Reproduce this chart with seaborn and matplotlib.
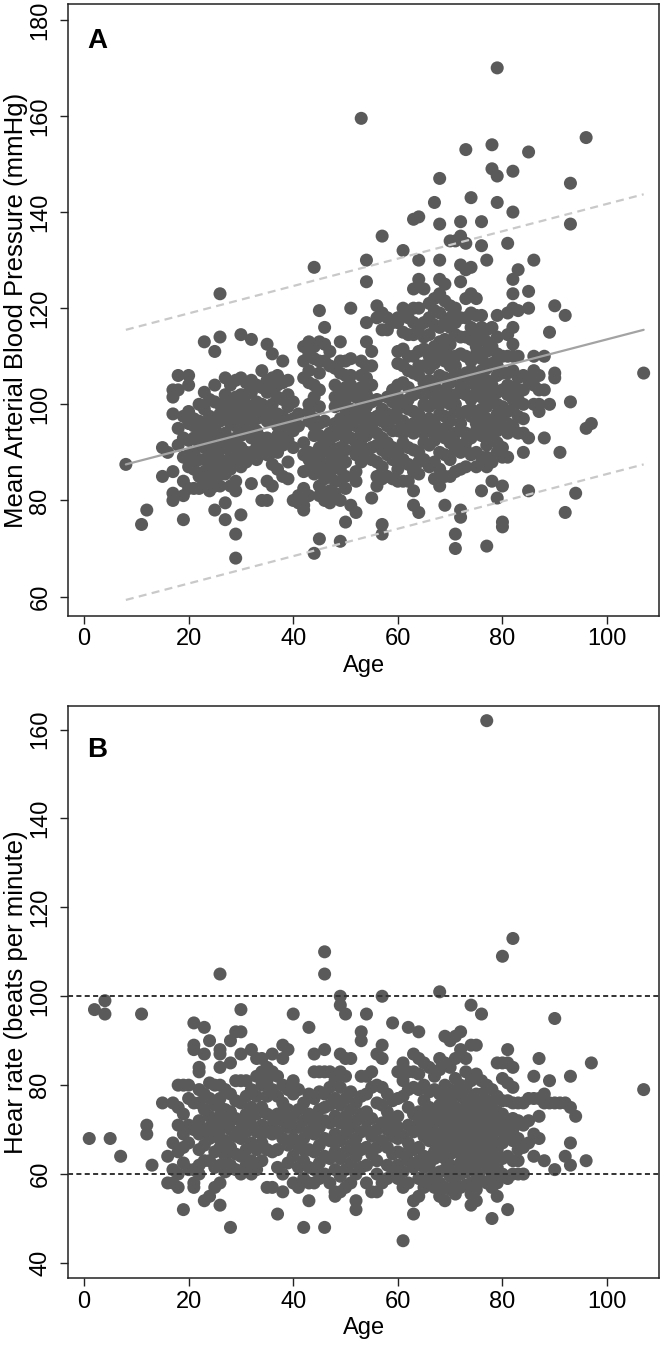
import matplotlib
matplotlib.use("Agg")
import matplotlib.pyplot as plt
import seaborn as sns
import pandas as pd

# ---------------- Panel A data: Age vs Mean Arterial Blood Pressure ----------------
ages_A = [8, 11, 12, 15, 16, 17, 18, 19, 20, 21,
          22, 23, 24, 25, 26, 27, 28, 29, 30, 31,
          32, 33, 34, 35, 36, 37, 38, 39, 40, 41,
          42, 43, 44, 45, 46, 47, 48, 49, 50, 51,
          52, 53, 54, 55, 56, 57, 58, 59, 60, 61,
          62, 63, 64, 65, 66, 67, 68, 69, 70, 71,
          72, 73, 74, 75, 76, 77, 78, 79, 80, 81,
          82, 83, 84, 85, 86, 87, 88, 89, 90, 91,
          92, 93, 94, 96, 97, 107]
map_A = [
    [87.5], [75], [78], [85, 91], [90],
    [103, 101.5, 98, 86, 81.5, 80],
    [95, 103, 106, 91.5],
    [76, 81, 89, 93, 97.5, 84],
    [106, 104, 96, 89.5, 82.5, 92.5, 98.5, 87],
    [95.5, 93, 90, 82.5, 97, 86.5, 88],
    [100, 96.5, 92, 88.5, 85, 82.5, 94],
    [113, 102.5, 99, 95.5, 91, 88.5, 86, 84, 93],
    [101, 97.5, 93, 90.5, 87, 84.5, 82, 95, 88.5],
    [111, 104, 100.5, 97, 95, 92.5, 89, 86.5, 83, 78, 90.5, 84.5],
    [123, 114, 100, 96.5, 93, 90.5, 87, 85.5, 83, 98, 88.5],
    [105.5, 97.5, 94, 91.5, 88, 85.5, 79.5, 76, 102, 99.5, 92.5],
    [104, 100.5, 96, 92.5, 89, 86.5, 83, 98, 90.5],
    [105, 101.5, 98, 95.5, 91, 87.5, 84, 82, 73, 68, 99.5, 93],
    [114.5, 105.5, 102, 99.5, 96, 93.5, 89, 87, 77, 97.5, 91],
    [104.5, 100, 97.5, 94, 90, 88, 102, 95.5],
    [113.5, 105, 102.5, 99, 96.5, 90, 83.5, 93],
    [104, 100.5, 97, 94.5, 91, 88.5, 98.5, 92.5],
    [107, 103.5, 100, 97.5, 93, 90.5, 80],
    [112.5, 105, 102.5, 99, 96.5, 93, 89.5, 84, 80, 97.5, 91],
    [110.5, 105.5, 103, 100, 96.5, 92, 87.5, 83, 98, 90],
    [106, 104, 101.5, 98, 95.5, 90, 86.5, 93.5],
    [109, 104.5, 101, 97.5, 94, 91.5, 85],
    [105, 102, 99.5, 96, 92.5, 88, 84.5],
    [100.5, 97, 94.5, 91, 80],
    [98, 95.5, 81, 79.5],
    [112, 109, 105.5, 92, 89.5, 86, 82.5, 79, 78],
    [113, 110.5, 107, 104.5, 100, 96.5, 90, 86.5, 81, 98.5, 88.5],
    [128.5, 112, 109.5, 104, 101.5, 97, 93.5, 89, 85.5, 69, 95.5, 87.5],
    [119.5, 113, 109, 106.5, 103, 99.5, 96, 93.5, 89, 86.5, 83, 81, 72, 91],
    [116, 112.5, 109, 96.5, 93, 90.5, 87, 84.5, 80, 91.5, 85.5],
    [111, 108, 94, 91.5, 88, 85.5, 82, 79.5, 90],
    [107.5, 104, 99.5, 96, 93.5, 90, 87.5, 84, 81.5, 101.5, 95, 89],
    [113, 106.5, 103, 100.5, 97, 94.5, 91, 88.5, 84, 80, 71.5, 109, 95.5, 86.5],
    [109, 106, 103.5, 99, 96.5, 93, 90.5, 85, 82.5, 75.5, 101, 94.5, 88],
    [120, 109.5, 106, 102.5, 99, 96.5, 93, 79, 104, 97.5],
    [101.5, 98, 95.5, 92, 89.5, 86, 84, 77.5, 103, 96.5, 90.5],
    [159.5, 106, 103.5, 100, 97.5, 94, 91.5, 88, 109, 98.5, 95],
    [130, 125.5, 117, 113, 105.5, 102, 99.5, 96, 93.5, 90, 108, 97.5],
    [111, 104, 100.5, 97, 94.5, 91, 88.5, 80.5, 108, 95.5],
    [120.5, 118, 101, 97.5, 94, 91.5, 85, 83, 88],
    [135, 119, 115.5, 99, 96.5, 93, 90.5, 87, 84.5, 75, 73],
    [118, 115.5, 101.5, 98, 95.5, 92, 89.5, 85],
    [117, 103, 100.5, 97, 94.5, 91, 88.5, 84.5],
    [118, 117, 108.5, 104, 101.5, 97, 94.5, 90, 86.5, 84, 111, 99],
    [132, 120, 111.5, 108, 104.5, 100, 96.5, 92, 88.5, 84, 115, 94],
    [118, 114.5, 107, 103.5, 99, 95.5, 91, 87.5, 84, 110, 101],
    [138.5, 124, 117, 114.5, 110, 106.5, 102, 98.5, 94, 90.5, 86, 82, 79, 120, 96],
    [139, 130, 126, 124.5, 116, 106, 102.5, 98, 94.5, 90, 85.5, 77.5, 111, 120, 108, 88],
    [124, 114, 111.5, 108, 104.5, 100, 96.5, 92, 88.5, 117, 102, 94],
    [118, 114.5, 110, 107.5, 103, 99.5, 95, 91.5, 87, 121, 105, 97],
    [142, 122, 119.5, 116.5, 112, 108.5, 104, 100.5, 96, 92.5, 88, 84.5, 102, 94],
    [147, 137.5, 130, 126, 123, 119, 113, 110.5, 106, 102.5, 98, 94.5, 90, 86.5, 83,
     116, 100],
    [125, 121.5, 117, 113.5, 109, 105.5, 101, 97.5, 93, 89.5, 85, 79, 111, 103, 95],
    [134, 120.5, 116, 112.5, 108, 104.5, 100, 96.5, 92, 88.5, 85, 118, 110, 102, 94],
    [134, 120, 114.5, 110, 106.5, 102, 98.5, 94, 90.5, 86, 73, 70, 117, 108, 100, 92],
    [138, 135, 129, 125.5, 110.5, 106, 102.5, 98, 94.5, 90, 86.5, 78, 76.5,
     118, 114, 104, 96],
    [153, 133.5, 128, 110, 106.5, 102, 98.5, 94, 90.5, 87, 114, 118, 122, 104, 92],
    [143, 128.5, 123, 119, 113.5, 109, 105.5, 101, 97.5, 93, 89.5, 116, 107, 99],
    [122, 118.5, 114, 110.5, 106, 102.5, 98, 94.5, 90, 87, 112, 104, 96],
    [138, 133, 118.5, 114, 109.5, 105, 101.5, 97, 93.5, 89, 82, 116, 107, 99],
    [130, 115.5, 111, 107.5, 103, 99.5, 95, 91.5, 87, 70.5, 113, 105, 97, 89],
    [154, 149, 116, 108.5, 104, 100.5, 96, 92.5, 88, 84, 112, 102, 94],
    [170, 147.5, 142, 118.5, 114, 110.5, 106, 102.5, 98, 94.5, 90, 80.5, 108, 100, 92],
    [110, 106.5, 103, 99.5, 95, 89, 83, 75.5, 74.5, 97, 91],
    [133.5, 119, 114.5, 110, 106.5, 102, 98.5, 94, 89, 104, 96],
    [148.5, 140, 126, 123, 120, 116, 112.5, 107, 103.5, 99, 95.5, 110, 101],
    [128, 119.5, 110, 105.5, 101, 97.5, 94, 103],
    [106, 103, 100, 94, 90, 97],
    [152.5, 123.5, 120, 105, 93, 82],
    [130, 110, 107, 104, 100],
    [106, 103, 100, 98.5],
    [110, 103, 93], [115, 100], [120.5, 106.5, 105.5],
    [90], [118.5, 77.5], [146, 137.5, 100.5], [81.5], [155.5, 95], [96], [106.5],
]
# fitted line and prediction band (endpoints at Age 8 and 107)
fit_age = [8, 107]
fit_mid = [87.5, 115.5]
fit_upper = [115.5, 143.7]
fit_lower = [59.3, 87.5]

# ---------------- Panel B data: Age vs Heart rate ----------------
ages_B = [1, 2, 4, 5, 7, 11, 12, 13, 15, 16,
          17, 18, 19, 20, 21, 22, 23, 24, 25, 26,
          27, 28, 29, 30, 31, 32, 33, 34, 35, 36,
          37, 38, 39, 40, 41, 42, 43, 44, 45, 46,
          47, 48, 49, 50, 51, 52, 53, 54, 55, 56,
          57, 58, 59, 60, 61, 62, 63, 64, 65, 66,
          67, 68, 69, 70, 71, 72, 73, 74, 75, 76,
          77, 78, 79, 80, 81, 82, 83, 84, 85, 86,
          87, 88, 89, 90, 91, 92, 93, 94, 96, 97,
          107]
hr_B = [
    [68], [97], [99, 96], [68], [64], [96], [71, 69], [62], [76], [64, 58],
    [76, 67, 61, 58],
    [80, 75, 71, 65, 60, 57],
    [80, 73.5, 69, 66, 52, 62.5],
    [80, 77, 67, 61, 71],
    [94, 89, 88, 76, 61, 58, 57, 70],
    [84, 83, 76, 72, 69, 62, 60, 65.5, 79],
    [93, 87, 78, 74.5, 70, 66.5, 63, 54],
    [90, 77, 73, 68, 63, 55, 80.5, 70.5],
    [80, 75.5, 72, 68.5, 65, 61.5, 57],
    [105, 88, 87, 84, 80, 77, 73, 70, 66, 62, 58, 53, 75, 68],
    [79, 74.5, 71.5, 67.5, 64, 60.5],
    [90, 85, 78, 74, 70, 66, 62, 48, 72],
    [92, 81, 76.5, 72.5, 68.5, 64.5, 61],
    [97, 92, 87, 81, 76, 72, 68, 64, 60, 70],
    [81, 77.5, 73.5, 69.5, 65.5, 62],
    [88, 79, 75, 71, 67, 63, 60, 73],
    [86, 82, 77.5, 73.5, 69.5, 65.5, 61],
    [86, 83, 80, 75, 71, 67, 63, 69],
    [84, 81, 77.5, 73.5, 69.5, 65.5, 57],
    [87, 83, 79, 73, 69, 65, 57, 71],
    [82, 77.5, 73.5, 69.5, 65.5, 61.5, 51],
    [89, 86, 80, 76, 72, 68, 60, 56, 74],
    [88, 79, 74.5, 70.5, 66.5, 62.5],
    [96, 81, 78, 73, 68, 64, 58, 70.5],
    [79, 74.5, 70.5, 66, 61.5, 57],
    [76, 72, 68, 63, 59, 48, 65.5],
    [93, 78, 73.5, 69.5, 65.5, 61.5, 58, 54],
    [87, 83, 77, 73, 69, 65, 61, 58, 71],
    [83, 78.5, 74.5, 70.5, 66.5, 62.5, 59],
    [110, 105, 88, 83, 78, 72, 68, 64, 60, 48, 75],
    [83, 79.5, 75.5, 71.5, 67.5, 63.5, 58],
    [81, 77, 73, 69, 65, 61, 56, 55, 67],
    [100, 98, 87, 83, 79.5, 75.5, 71.5, 67.5, 63.5, 59.5, 56],
    [96, 86, 82, 77, 73, 69, 65, 61, 57, 71],
    [86, 78.5, 74.5, 70.5, 66.5, 62.5, 58],
    [76, 72, 68, 64, 60, 54, 52, 66],
    [92, 90, 82, 77.5, 73.5, 69.5, 65.5, 61.5],
    [96, 82, 78, 74, 70, 66, 62, 58, 72],
    [83, 79.5, 72.5, 68.5, 64.5, 56],
    [87, 80, 76, 70, 66, 60, 56, 63],
    [100, 89, 86, 79.5, 75.5, 71.5, 67.5, 58],
    [78, 74, 70, 66, 62, 59, 72],
    [94, 76.5, 72.5, 68.5, 64.5, 61],
    [83, 77, 73, 68, 65, 62, 59, 70.5],
    [85, 81, 77.5, 68.5, 64.5, 60.5, 57, 45],
    [93, 83, 79, 75, 71, 67, 63, 58, 65],
    [87, 83, 79.5, 73.5, 69.5, 65.5, 61.5, 54, 51],
    [92, 86, 82.5, 79, 74, 71.5, 66, 63, 59, 55],
    [85, 80, 76.5, 73, 68.5, 64, 61.5, 57, 70.5],
    [84, 78.5, 75, 70, 67.5, 62, 59, 73],
    [82, 79, 74, 71.5, 69, 65, 63.5, 60, 57, 67.5],
    [101, 86, 83.5, 78, 75.5, 73, 69, 67.5, 64, 60.5, 58, 55],
    [91, 85, 80, 77.5, 74, 70.5, 66, 63.5, 61, 57, 54, 72, 68],
    [90, 84, 79, 76, 73.5, 71, 67, 64.5, 62, 59.5, 56.5, 69.5],
    [91, 86, 81.5, 78, 75, 71.5, 68.5, 65, 61.5, 58, 55.5, 73, 66.5],
    [92, 88, 80, 77.5, 74, 72.5, 69.5, 66.5, 62.5, 60, 57, 71, 64.5],
    [86, 83, 79.5, 76.5, 72.5, 70, 66.5, 63, 60.5, 57.5, 74.5, 68.5],
    [98, 89, 81, 77.5, 75, 71, 67.5, 65.5, 61.5, 58, 55.5, 53, 73, 63.5],
    [89, 82.5, 78, 74.5, 72, 68.5, 66, 62.5, 60, 56.5, 54, 76.5, 70],
    [96, 81, 78, 74, 70.5, 68, 64.5, 61, 58.5, 76, 66.5],
    [162, 80, 76.5, 72.5, 69.5, 67, 63.5, 61.5, 58, 74.5, 65.5],
    [79, 75.5, 71.5, 68.5, 66, 62.5, 59.5, 57, 50, 73.5, 64],
    [85, 77.5, 74, 70.5, 67, 65.5, 61.5, 58, 55, 72.5],
    [109, 85, 81.5, 76.5, 73.5, 69.5, 67, 63.5, 60, 71.5],
    [88, 85, 80.5, 76.5, 72, 68.5, 64, 59, 52, 70],
    [113, 84, 79.5, 76, 72.5, 67.5, 63, 60, 70],
    [76, 72, 68, 63, 60, 65.5], [76, 71, 66, 60], [77, 72, 67], [82, 77, 69, 64],
    [86, 77, 73, 68], [78, 76, 63], [81, 76], [95, 76, 61], [76], [76, 64],
    [82, 75, 67, 62], [73], [63], [85], [79],
]
ref_lines_B = [60, 100]


def flatten(ages, vals, name):
    xs, ys = [], []
    for a, vs in zip(ages, vals):
        for v in vs:
            xs.append(a)
            ys.append(v)
    return pd.DataFrame({"Age": xs, name: ys})


df_A = flatten(ages_A, map_A, "MAP")
df_B = flatten(ages_B, hr_B, "HR")

sns.set_theme(style="white")
plt.rcParams["font.family"] = ["Liberation Sans", "DejaVu Sans"]
plt.rcParams["axes.edgecolor"] = "#222222"
plt.rcParams["axes.linewidth"] = 1.1
plt.rcParams["text.color"] = "black"
plt.rcParams["axes.labelcolor"] = "black"
plt.rcParams["xtick.color"] = "black"
plt.rcParams["ytick.color"] = "black"

fig = plt.figure(figsize=(6.61, 13.64), dpi=100)
axA = fig.add_axes([0.1029, 0.5484, 0.8946, 0.4487])
axB = fig.add_axes([0.1029, 0.0630, 0.8946, 0.4194])

pt_color = "#5a5a5a"
msize = 88
tick_fs = 17
lab_fs = 18.5

# Panel A
sns.scatterplot(data=df_A, x="Age", y="MAP", ax=axA, s=msize, color=pt_color,
                edgecolor="none", linewidth=0, zorder=3)
axA.plot(fit_age, fit_mid, color="#a3a3a3", lw=1.6, zorder=4)
axA.plot(fit_age, fit_upper, color="#c9c9c9", lw=1.6, dashes=(3.6, 2.4), zorder=4)
axA.plot(fit_age, fit_lower, color="#c9c9c9", lw=1.6, dashes=(3.6, 2.4), zorder=4)
axA.set_xlim(-3.06, 110.0)
axA.set_ylim(55.96, 183.3)
axA.set_yticks([60, 80, 100, 120, 140, 160, 180])
axA.set_ylabel("Mean Arterial Blood Pressure (mmHg)", fontsize=lab_fs)
axA.text(0.6, 174.2, "A", fontsize=20, fontweight="bold", ha="left", va="baseline",
         color="black")

# Panel B
sns.scatterplot(data=df_B, x="Age", y="HR", ax=axB, s=msize, color=pt_color,
                edgecolor="none", linewidth=0, zorder=3)
for yv in ref_lines_B:
    axB.axhline(yv, color="#333333", lw=1.4, dashes=(2.6, 1.7), zorder=4)
axB.set_xlim(-3.06, 110.0)
axB.set_ylim(36.6, 165.3)
axB.set_yticks([40, 60, 80, 100, 120, 140, 160])
axB.set_ylabel("Hear rate (beats per minute)", fontsize=lab_fs)
axB.text(0.6, 153.8, "B", fontsize=20, fontweight="bold", ha="left", va="baseline",
         color="black")

for ax in (axA, axB):
    ax.set_xticks([0, 20, 40, 60, 80, 100])
    ax.set_xlabel("Age", fontsize=tick_fs, labelpad=3)
    ax.tick_params(axis="both", which="major", direction="out", length=6,
                   width=1.0, color="#222222", labelcolor="black", labelsize=tick_fs,
                   bottom=True, left=True, top=False, right=False)
    ax.tick_params(axis="x", pad=3)
    ax.tick_params(axis="y", pad=6)
    for lab in ax.get_yticklabels():
        lab.set_rotation(90)
        lab.set_va("center")
    for sp in ax.spines.values():
        sp.set_visible(True)
    ax.yaxis.set_label_coords(-0.068, 0.5)

fig.savefig("out.png", dpi=100)
